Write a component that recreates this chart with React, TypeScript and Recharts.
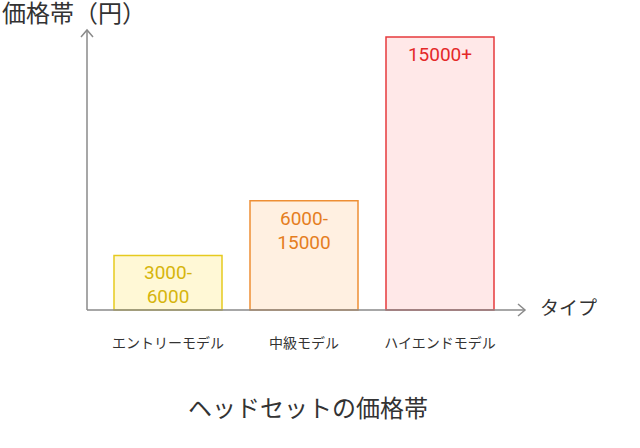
import { BarChart, Bar, XAxis, YAxis, Cell, LabelList, Customized } from 'recharts';

const categories = ['エントリーモデル', '中級モデル', 'ハイエンドモデル'];
const levels = [1, 2, 5];
const priceLabels = ['3000-\n6000', '6000-\n15000', '15000+'];
const fills = ['#FFF8D6', '#FFF0E1', '#FFE8E8'];
const strokes = ['#E6CA1F', '#EE8F35', '#E63A3D'];
const textColors = ['#D6B50C', '#E57E1E', '#E42828'];

const data = categories.map((name, i) => ({ name, level: levels[i], label: priceLabels[i], idx: i }));

const W = 640;
const H = 448;
const XAXIS_H = 30;
const M = { top: 30, right: 115, bottom: 138 - XAXIS_H, left: 87 };
const AXIS = '#8a8a8a';
const FONT = "Roboto, 'Noto Sans CJK JP', sans-serif";

function InnerLabel(props: any) {
  const { x, y, width, value, index } = props;
  const lines = String(value).split('\n');
  return (
    <text x={x + width / 2} y={y + 24} textAnchor="middle" fill={textColors[index]} fontSize={19} fontFamily={FONT}>
      {lines.map((l, i) => (
        <tspan key={i} x={x + width / 2} dy={i === 0 ? 0 : 24}>{l}</tspan>
      ))}
    </text>
  );
}

function Decorations() {
  const x0 = M.left;
  const y0 = H - M.bottom - XAXIS_H;
  const xEnd = W - M.right;
  const yTop = M.top;
  return (
    <g>
      <line x1={x0} y1={yTop} x2={x0} y2={y0} stroke={AXIS} strokeWidth={1.5} />
      <path d={`M${x0 - 6},${yTop + 7} L${x0},${yTop} L${x0 + 6},${yTop + 7}`} fill="none" stroke={AXIS} strokeWidth={1.5} />
      <path d={`M${xEnd - 7},${y0 - 6} L${xEnd},${y0} L${xEnd - 7},${y0 + 6}`} fill="none" stroke={AXIS} strokeWidth={1.5} />
      <text x={2} y={22} fontSize={24} fill="#333" fontFamily={FONT}>価格帯（円）</text>
      <text x={540} y={315} fontSize={19} fill="#333" fontFamily={FONT}>タイプ</text>
      <text x={(x0 + xEnd) / 2 + 2} y={417} textAnchor="middle" fontSize={24} fill="#333" fontFamily={FONT}>ヘッドセットの価格帯</text>
    </g>
  );
}

export default function App() {
  return (
    <div style={{ position: 'absolute', left: 0, top: 0, width: W, height: H, background: '#fff' }}>
      <BarChart width={W} height={H} data={data} margin={M} barCategoryGap={14}>
        <XAxis
          dataKey="name"
          height={XAXIS_H}
          padding={{ left: 13, right: 17 }}
          axisLine={{ stroke: AXIS, strokeWidth: 1.5 }}
          tickLine={false}
          tick={{ fontSize: 14, fill: '#333', fontFamily: FONT }}
          tickMargin={22}
          interval={0}
        />
        <YAxis domain={[0, 5]} padding={{ top: 7 }} width={0} tick={false} tickLine={false} axisLine={false} />
        <Bar dataKey="level" isAnimationActive={false} strokeWidth={1.5}>
          {data.map((d, i) => (
            <Cell key={d.name} fill={fills[i]} stroke={strokes[i]} />
          ))}
          <LabelList dataKey="label" content={InnerLabel} />
        </Bar>
        <Customized component={Decorations} />
      </BarChart>
    </div>
  );
}
